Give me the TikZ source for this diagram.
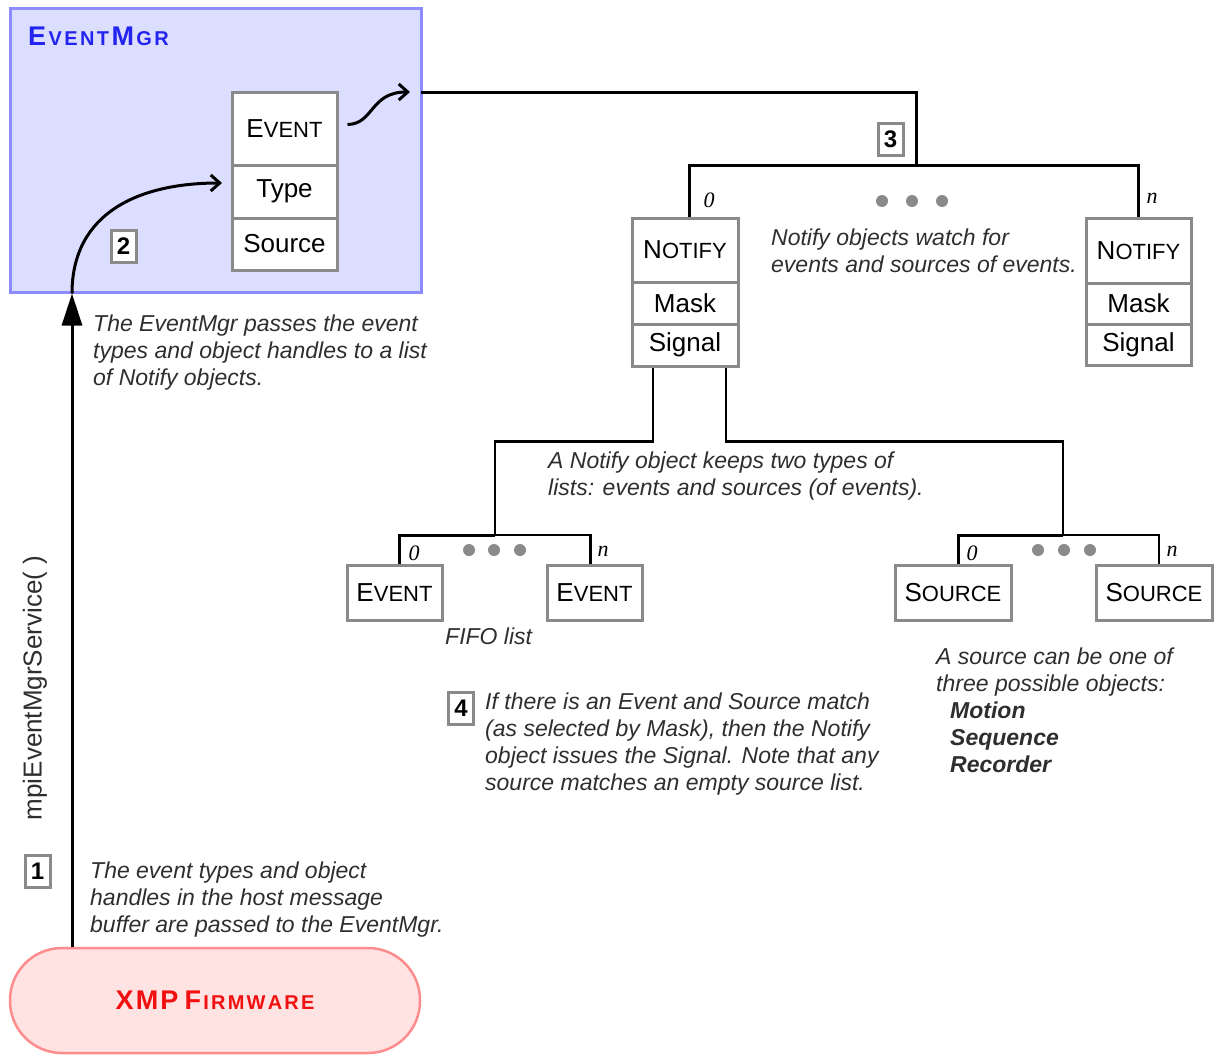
\documentclass[tikz,border=0pt]{standalone}
\usepackage{fontspec}
\setmainfont{Liberation Sans}
\newfontfamily\serifit{Liberation Serif}
\usetikzlibrary{arrows.meta}
\definecolor{mgrfill}{HTML}{DCDEFF}
\definecolor{mgrline}{HTML}{8C8CFF}
\definecolor{mgrtext}{HTML}{2424F0}
\definecolor{fwfill}{HTML}{FFE2E2}
\definecolor{fwline}{HTML}{FF8C8C}
\definecolor{fwtext}{HTML}{F01010}
\definecolor{boxline}{HTML}{8A8A8A}
\definecolor{anntext}{HTML}{2E2E2E}
\newdimen\lskip
\def\spc#1{\spcaux#1\relax}
\def\spcaux#1{\ifx\relax#1\else#1\kern\lskip\expandafter\spcaux\fi}
\newcommand\bigsm[2]{{\fontsize{26}{28}\selectfont #1}{\fontsize{22}{22}\selectfont #2}}
\begin{document}
\begin{tikzpicture}[x=1pt,y=-1pt,
  cell/.style={draw=boxline, line width=3pt, fill=white, inner sep=0pt, font=\fontsize{26}{28}\selectfont},
  numbox/.style={draw=boxline, line width=3pt, fill=white, inner sep=0pt, minimum width=25pt, minimum height=32pt, font=\bfseries\fontsize{24}{24}\selectfont},
  ann/.style={anchor=north west, inner sep=0pt, align=left, text=anntext, font=\itshape\fontsize{23}{27}\selectfont},
  idx/.style={inner sep=0pt, font=\serifit\itshape\fontsize{22}{22}\selectfont},
  conn/.style={line width=3pt, black},
  thin/.style={line width=2.2pt, black},
  barb/.style={-{Straight Barb[length=9pt,width=16pt]}, line width=3pt},
  dot/.style={fill=boxline}
]
\useasboundingbox (0,0) rectangle (1215,1055);

% EventMgr container
\node[draw=mgrline, fill=mgrfill, line width=3pt, minimum width=411pt, minimum height=284pt, inner sep=0pt] (mgr) at (215.5,150) {};
\node[anchor=west, inner sep=0pt, text=mgrtext, font=\bfseries] (mgrt) at (28,36)
  {\lskip=2.4pt{\fontsize{27}{28}\selectfont\spc{E}}{\fontsize{20}{20}\selectfont\spc{VENT}}{\fontsize{27}{28}\selectfont\spc{M}}{\fontsize{20}{20}\selectfont G\kern\lskip R}};

% Event stack
\node[cell, minimum width=105pt, minimum height=73pt] (ev) at (284.5,128.5) {\bigsm{E}{VENT}};
\node[cell, minimum width=105pt, minimum height=53pt] (evtype) at (284.5,191.5) {Type};
\node[cell, minimum width=105pt, minimum height=52pt] (evsrc) at (284.5,244) {Source};

% Firmware
\node[draw=fwline, fill=fwfill, line width=2.5pt, rounded corners=52pt, minimum width=410pt, minimum height=105pt, inner sep=0pt, text=fwtext, font=\bfseries] (fw) at (215,1000.5)
  {\lskip=2.2pt{\fontsize{27}{28}\selectfont\spc{XMP}\kern4pt\spc{F}}{\fontsize{20}{20}\selectfont\spc{IRMWAR}E}};

% Notify stacks
\node[cell, minimum width=106pt, minimum height=64pt] (n0) at (685,250) {\bigsm{N}{OTIFY}};
\node[cell, minimum width=106pt, minimum height=42pt] (n0m) at (685,303) {Mask};
\node[cell, minimum width=106pt, minimum height=42pt] (n0s) at (685,345) {Signal};
\node[cell, minimum width=105pt, minimum height=65pt] (nn) at (1138.5,250.5) {\bigsm{N}{OTIFY}};
\node[cell, minimum width=105pt, minimum height=41pt] (nnm) at (1138.5,303.5) {Mask};
\node[cell, minimum width=105pt, minimum height=41pt] (nns) at (1138.5,344.5) {Signal};

% Event / source lists
\node[cell, minimum width=95pt, minimum height=55pt] (e0) at (394.5,592.5) {\bigsm{E}{VENT}};
\node[cell, minimum width=95pt, minimum height=55pt] (en) at (594.5,592.5) {\bigsm{E}{VENT}};
\node[cell, minimum width=116pt, minimum height=55pt] (s0) at (953,592.5) {\bigsm{S}{OURCE}};
\node[cell, minimum width=116pt, minimum height=55pt] (sn) at (1154,592.5) {\bigsm{S}{OURCE}};

% Number boxes
\node[numbox] (num1) at (37.5,871.5) {1};
\node[numbox] (num2) at (123.5,246) {2};
\node[numbox] (num3) at (890.5,139) {3};
\node[numbox] (num4) at (461,708) {4};

% coordinates
\coordinate (ax) at (72,0);
\coordinate (tt) at (222,183);
\coordinate (t0) at (421,92);
\coordinate (bus) at (916,165);
\coordinate (ej) at (495,535);
\coordinate (sj) at (1063,535);

% Connectors
\draw[conn, -{Triangle[length=32pt,width=20pt]}] (fw.north -| ax) -- (mgr.south -| ax);
\draw[conn, barb] (mgr.south -| ax) .. controls (72,212) and (140,183) .. (tt);
\draw[conn, barb] ([xshift=9pt,yshift=4pt]ev.east) .. controls (374,124) and (370,92) .. ([xshift=-11pt]t0);
\draw[conn] (t0) -- (t0 -| bus) -- (bus);
\draw[conn] ([xshift=4pt]n0.north) |- (bus) -| (nn.north);
\draw[thin] ([xshift=-32pt]n0s.south) -- ++(0,74) -| (ej);
\draw[thin] ([xshift=41pt]n0s.south) -- ++(0,74) -| (sj);
\draw[thin] (ej) -| ([xshift=-4pt]en.north);
\draw[conn] ([xshift=5pt]e0.north) |- (ej);
\draw[thin] (sj) -| ([xshift=5pt]sn.north);
\draw[conn] ([xshift=5pt]s0.north) |- (sj);

% Dots
\foreach \x in {882,912,942} \fill[dot] (\x,201) circle[radius=6pt];
\foreach \x in {469,494,520} \fill[dot] (\x,550) circle[radius=6pt];
\foreach \x in {1038,1064,1090} \fill[dot] (\x,550) circle[radius=6pt];

% Index labels
\node[idx] (i1) at (709,200) {0};
\node[idx] (i2) at (1152,198) {n};
\node[idx] (i3) at (414,553) {0};
\node[idx] (i4) at (603,551) {n};
\node[idx] (i5) at (972,553) {0};
\node[idx] (i6) at (1172,551) {n};

% Annotations
\node[ann] (a1) at (93,315) {The EventMgr passes the event\\types and object handles to a list\\of Notify objects.};
\node[ann] (a2) at (771,229) {Notify objects watch for\\events and sources of events.};
\node[ann] (a3) at (548,452) {A Notify object keeps two types of\\lists: events and sources (of events).};
\node[ann] (a4) at (445,628) {FIFO list};
\node[ann] (a5) at (485,693) {If there is an Event and Source match\\(as selected by Mask), then the Notify\\object issues the Signal. Note that any\\source matches an empty source list.};
\node[ann] (a6) at (936,648) {A source can be one of\\three possible objects:};
\node[ann, font=\bfseries\itshape\fontsize{23}{27}\selectfont] (a7) at (950,702) {Motion\\Sequence\\Recorder};
\node[ann] (a8) at (90,862) {The event types and object\\handles in the host message\\buffer are passed to the EventMgr.};
\node[rotate=90, inner sep=0pt, text=anntext, font=\fontsize{26}{28}\selectfont] (svc) at (35,688) {mpiEventMgrService( )};
\end{tikzpicture}
\end{document}
